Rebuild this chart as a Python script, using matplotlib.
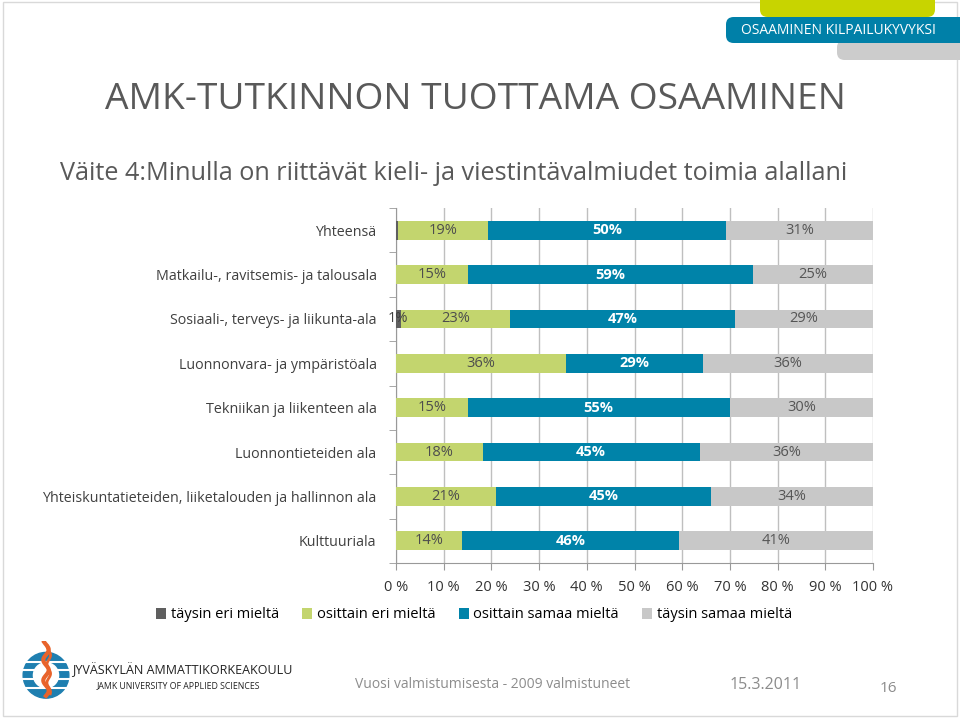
import numpy as np
import matplotlib.pyplot as plt
from matplotlib.patches import FancyBboxPatch, Rectangle, Circle

categories = [
    "Yhteensä",
    "Matkailu-, ravitsemis- ja talousala",
    "Sosiaali-, terveys- ja liikunta-ala",
    "Luonnonvara- ja ympäristöala",
    "Tekniikan ja liikenteen ala",
    "Luonnontieteiden ala",
    "Yhteiskuntatieteiden, liiketalouden ja hallinnon ala",
    "Kulttuuriala",
]
series_names = ["täysin eri mieltä", "osittain eri mieltä",
                "osittain samaa mieltä", "täysin samaa mieltä"]
tays_eri = [0.4, 0, 1, 0, 0, 0, 0, 0]
osit_eri = [19, 15, 23, 36, 15, 18, 21, 14]
osit_samaa = [50, 59, 47, 29, 55, 45, 45, 46]
tays_samaa = [31, 25, 29, 36, 30, 36, 34, 41]
# labels printed on the segments ("" = no label)
lbl_tays_eri = ["", "", "1%", "", "", "", "", ""]

colors = ["#5f5f5f", "#c3d56e", "#0083a9", "#c8c8c8"]
label_colors = ["#404040", "#4d4d4d", "white", "#555555"]
FONT = ["Open Sans", "DejaVu Sans"]
plt.rcParams['font.family'] = FONT

data = np.array([tays_eri, osit_eri, osit_samaa, tays_samaa], dtype=float)
share = data / data.sum(axis=0) * 100

fig = plt.figure(figsize=(9.6, 7.18), dpi=100)
ax = fig.add_axes([396 / 960, 1 - 563 / 718, 477 / 960, 355 / 718])

y = np.arange(len(categories))
left = np.zeros(len(categories))
for k in range(4):
    ax.barh(y, share[k], left=left, height=0.42, color=colors[k], zorder=3,
            label=series_names[k])
    for i in range(len(categories)):
        if k == 0:
            txt = lbl_tays_eri[i]
        else:
            txt = "%d%%" % round(data[k, i])
        if txt:
            ax.text(left[i] + share[k, i] / 2, y[i], txt, ha="center", va="center",
                    fontsize=10.5, color=label_colors[k], zorder=4,
                    fontweight="bold" if k == 2 else "normal")
    left += share[k]

ax.set_xlim(0, 100)
ax.set_ylim(len(categories) - 0.5, -0.5)
ax.set_xticks(np.arange(0, 101, 10))
ax.set_xticklabels(["%d %%" % v for v in range(0, 101, 10)], fontsize=10.5, color="#333333")
ax.set_yticks(y)
ax.set_yticklabels(categories, fontsize=10.3, color="#404040")
ax.set_yticks(np.arange(-0.5, len(categories), 1), minor=True)
ax.tick_params(axis="y", which="major", length=0, pad=14)
ax.tick_params(axis="y", which="minor", length=5, color="#999999")
ax.tick_params(axis="x", length=5, color="#999999", pad=7)
ax.grid(axis="x", color="#bfbfbf", linewidth=1, zorder=0)
for s in ["top", "right"]:
    ax.spines[s].set_visible(False)
for s in ["left", "bottom"]:
    ax.spines[s].set_color("#999999")

handles, labels = ax.get_legend_handles_labels()
fig.legend(handles, labels, loc="center", bbox_to_anchor=(474 / 960, 1 - 615 / 718), ncol=4,
           frameon=False, fontsize=10.5, handlelength=0.7, handleheight=0.7,
           handletextpad=0.3, columnspacing=1.6)

# slide frame
fig.patches.append(Rectangle((0.003, 0.003), 0.994, 0.994, transform=fig.transFigure,
                             fill=False, edgecolor="#d9d9d9", linewidth=1))

# header banner
def px(x, yy):
    return x / 960, 1 - yy / 718

for (x0, y0, x1, y1, c) in [(760, -10, 935, 17, "#c8d400"),
                            (837, 40, 975, 60, "#cccccc"),
                            (726, 17, 975, 43, "#0080a8")]:
    bx, by = px(x0, y1)
    fig.patches.append(FancyBboxPatch((bx, by), (x1 - x0) / 960, (y1 - y0) / 718,
                                      boxstyle="round,pad=0,rounding_size=0.008",
                                      transform=fig.transFigure, facecolor=c,
                                      edgecolor="none", mutation_aspect=1.3))
fig.text(*px(838, 31), "OSAAMINEN KILPAILUKYVYKSI", color="white", fontsize=10,
         ha="center", va="center")

fig.text(*px(105, 100), "AMK-TUTKINNON TUOTTAMA OSAAMINEN", fontsize=26.8,
         color="#595959", ha="left", va="center")
fig.text(*px(60, 174), "Väite 4:Minulla on riittävät kieli- ja viestintävalmiudet toimia alallani",
         fontsize=18.2, color="#595959", ha="left", va="center")

# footer
logo = fig.add_axes([18 / 960, 1 - 705 / 718, 56 / 960, 64 / 718])
logo.set_xlim(-1.2, 1.2)
logo.set_ylim(-1.3, 1.5)
logo.set_aspect("equal")
logo.axis("off")
logo.add_patch(Circle((0, 0), 1.0, color="#1f7fb0"))
for yy in [-0.55, -0.15, 0.25, 0.6]:
    logo.plot([-1, 1], [yy, yy], color="white", lw=1.5)
logo.add_patch(Circle((0, 0), 0.55, color="white"))
t = np.linspace(-0.9, 1.45, 40)
logo.plot(0.12 * np.sin(t * 7), t, color="#e8632b", lw=3)
logo.plot(0.08 * np.sin(t * 7 + 1) + 0.12, t * 0.9, color="#e8632b", lw=2)

fig.text(*px(72, 670), "JYVÄSKYLÄN AMMATTIKORKEAKOULU", fontsize=9, color="#222222",
         ha="left", va="center")
fig.text(*px(97, 686), "JAMK UNIVERSITY OF APPLIED SCIENCES", fontsize=6.3, color="#222222",
         ha="left", va="center")
fig.text(*px(355, 685), "Vuosi valmistumisesta - 2009 valmistuneet", fontsize=10,
         color="#8c8c8c", ha="left", va="center")
fig.text(*px(730, 685), "15.3.2011", fontsize=11.5, color="#8c8c8c", ha="left", va="center")
fig.text(*px(880, 688), "16", fontsize=11, color="#8c8c8c", ha="left", va="center")

fig.savefig("out.png", dpi=100)
